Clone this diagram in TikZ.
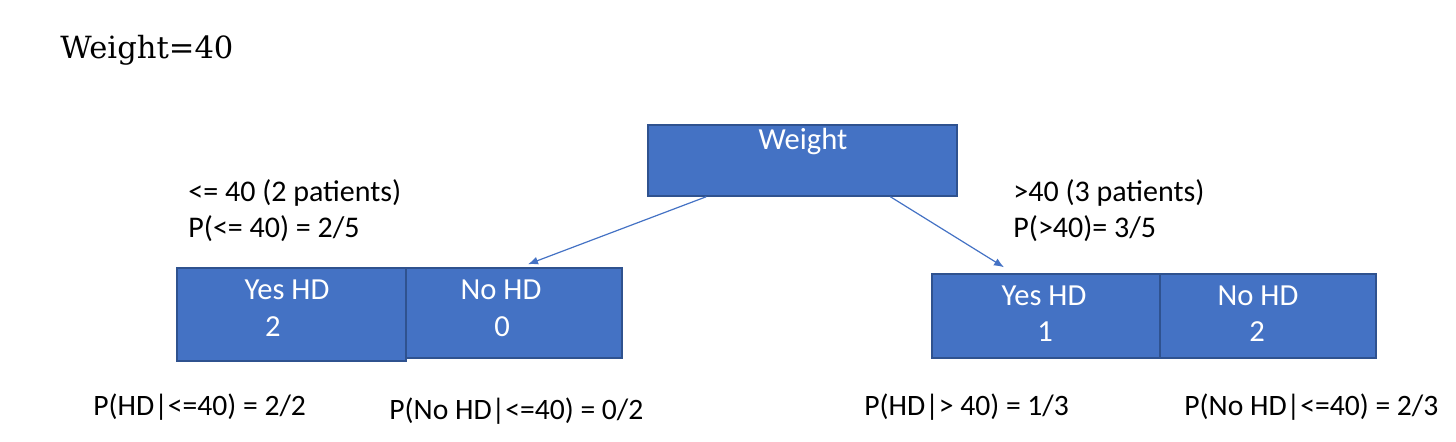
\documentclass[tikz,border=0pt]{standalone}
\usepackage{fontspec}
\setmainfont{Carlito}
\newfontfamily\titlefont{DejaVu Serif}
\usetikzlibrary{arrows.meta,calc}
\definecolor{hdblue}{HTML}{4472C4}
\definecolor{hdedge}{HTML}{2F528F}
\tikzset{
  box/.style={draw=hdedge, fill=hdblue, line width=0.75pt, inner sep=0pt},
  boxtxt/.style={text=white, inner sep=0pt, anchor=base, font=\fontsize{15.3}{18}\selectfont},
  lbl/.style={text=black, inner sep=0pt, anchor=base west, font=\fontsize{15}{18}\selectfont},
  plbl/.style={text=black, inner sep=0pt, anchor=base west, font=\fontsize{14.8}{18}\selectfont},
  arr/.style={draw=hdblue, line width=0.6pt, -{Latex[length=5pt,width=4pt]}}
}
\begin{document}
\begin{tikzpicture}[x=0.5pt,y=-0.5pt]
\useasboundingbox (0,0) rectangle (1456,442);
\node[inner sep=0pt, anchor=base west, font=\titlefont\fontsize{15.3}{18}\selectfont] (title) at (60,59) {Weight=40};
% boxes
\node[box, minimum width=154.5pt, minimum height=35.5pt] (w) at (802.5,160.5) {};
\node[box, minimum width=114.5pt, minimum height=46.5pt] (lyes) at (291.5,314.5) {};
\node[box, minimum width=108pt, minimum height=45pt] (lno) at (514,313) {};
\node[box, minimum width=114pt, minimum height=42pt] (ryes) at (1046,316) {};
\node[box, minimum width=108pt, minimum height=42pt] (rno) at (1268,316) {};
% box texts
\node[boxtxt] (wt) at (803,150) {Weight};
\node[boxtxt] (lyt1) at (287,300) {Yes HD};
\node[boxtxt] (lyt2) at (273,337) {2};
\node[boxtxt] (lnt1) at (501,300) {No HD};
\node[boxtxt] (lnt2) at (502,337) {0};
\node[boxtxt] (ryt1) at (1044,306) {Yes HD};
\node[boxtxt] (ryt2) at (1045,342) {1};
\node[boxtxt] (rnt1) at (1258,306) {No HD};
\node[boxtxt] (rnt2) at (1257,342) {2};
% branch labels
\node[lbl] (l1) at (188,202) {<= 40 (2 patients)};
\node[lbl] (l2) at (188,238) {P(<= 40) = 2/5};
\node[lbl] (r1) at (1013,202) {>40 (3 patients)};
\node[lbl] (r2) at (1013,238) {P(>40)= 3/5};
% bottom labels
\node[plbl] (b1) at (93,416) {P(HD|<=40) = 2/2};
\node[plbl] (b2) at (389,420) {P(No HD|<=40) = 0/2};
\node[plbl] (b3) at (864,416) {P(HD|> 40) = 1/3};
\node[plbl] (b4) at (1184,416) {P(No HD|<=40) = 2/3};
% arrows
\draw[arr] ($(w.south west)!0.19!(w.south east)$) -- ($(lno.north)+(14,-3)$);
\draw[arr] ($(w.south west)!0.783!(w.south east)$) -- ($(ryes.north)+(-42,-6)$);
\end{tikzpicture}
\end{document}
